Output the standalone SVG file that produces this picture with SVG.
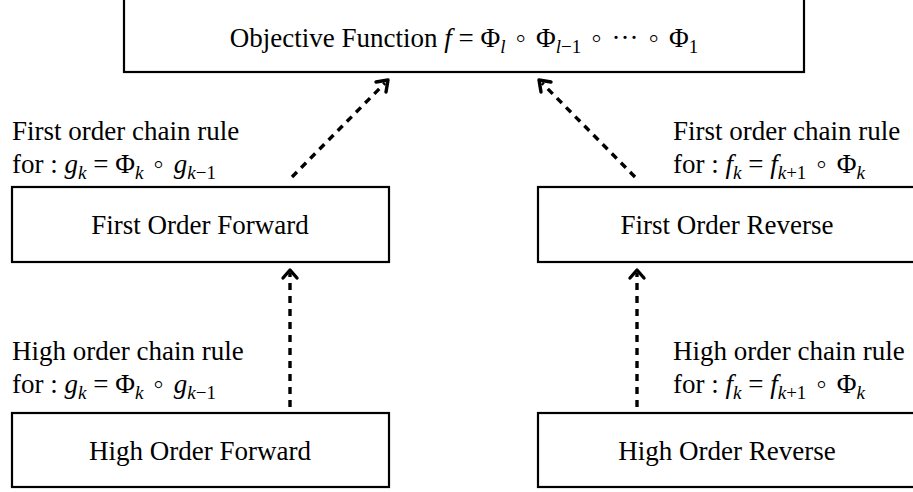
<svg xmlns="http://www.w3.org/2000/svg" width="913" height="492" viewBox="0 0 913 492">
<defs>
<style>
.box{fill:#fff;stroke:#000;stroke-width:2.2}
text{font-family:"Liberation Serif","Times New Roman",serif;font-size:27px;fill:#000}
.t{font-size:27px}
.c{text-anchor:middle}
.i{font-style:italic}
.s{font-size:19px}
.o{font-family:"DejaVu Sans",sans-serif;font-weight:200;font-size:27px}
.conn{fill:none;stroke:#000;stroke-width:3.4;stroke-dasharray:7 6}
.head{fill:none;stroke:#000;stroke-width:3.4;stroke-linecap:round;stroke-linejoin:round}
</style>
</defs>
<rect width="913" height="492" fill="#fff"/>
<g id="objective">
<rect class="box" x="124" y="-10" width="680" height="82"/>
<text class="c t" x="464" y="47">Objective Function <tspan class="i">f</tspan> = Φ<tspan class="s i" dy="6">l</tspan><tspan dy="-6"> </tspan><tspan class="o">∘</tspan> Φ<tspan class="s i" dy="6">l</tspan><tspan class="s">−1</tspan><tspan dy="-6"> </tspan><tspan class="o">∘</tspan> ··· <tspan class="o">∘</tspan> Φ<tspan class="s" dy="6">1</tspan></text>
</g>
<g id="label-fo-fwd">
<text x="12" y="140">First order chain rule</text>
<text x="12" y="173">for : <tspan class="i">g</tspan><tspan class="s i" dy="6">k</tspan><tspan dy="-6"> = Φ</tspan><tspan class="s i" dy="6">k</tspan><tspan dy="-6"> </tspan><tspan class="o">∘</tspan> <tspan class="i">g</tspan><tspan class="s i" dy="6">k</tspan><tspan class="s">−1</tspan></text>
</g>
<g id="label-fo-rev">
<text x="673" y="140">First order chain rule</text>
<text x="673" y="173">for : <tspan class="i">f</tspan><tspan class="s i" dy="6">k</tspan><tspan dy="-6"> = </tspan><tspan class="i">f</tspan><tspan class="s i" dy="6">k</tspan><tspan class="s">+1</tspan><tspan dy="-6"> </tspan><tspan class="o">∘</tspan> Φ<tspan class="s i" dy="6">k</tspan></text>
</g>
<g id="label-ho-fwd">
<text x="12" y="360">High order chain rule</text>
<text x="12" y="393">for : <tspan class="i">g</tspan><tspan class="s i" dy="6">k</tspan><tspan dy="-6"> = Φ</tspan><tspan class="s i" dy="6">k</tspan><tspan dy="-6"> </tspan><tspan class="o">∘</tspan> <tspan class="i">g</tspan><tspan class="s i" dy="6">k</tspan><tspan class="s">−1</tspan></text>
</g>
<g id="label-ho-rev">
<text x="673" y="360">High order chain rule</text>
<text x="673" y="393">for : <tspan class="i">f</tspan><tspan class="s i" dy="6">k</tspan><tspan dy="-6"> = </tspan><tspan class="i">f</tspan><tspan class="s i" dy="6">k</tspan><tspan class="s">+1</tspan><tspan dy="-6"> </tspan><tspan class="o">∘</tspan> Φ<tspan class="s i" dy="6">k</tspan></text>
</g>
<g id="first-order-forward">
<rect class="box" x="12" y="187" width="377" height="75"/>
<text class="c" x="200" y="234">First Order Forward</text>
</g>
<g id="first-order-reverse">
<rect class="box" x="538" y="187" width="377" height="75"/>
<text class="c" x="727" y="234">First Order Reverse</text>
</g>
<g id="high-order-forward">
<rect class="box" x="12" y="413" width="377" height="74"/>
<text class="c" x="200" y="460">High Order Forward</text>
</g>
<g id="high-order-reverse">
<rect class="box" x="538" y="413" width="377" height="74"/>
<text class="c" x="727" y="460">High Order Reverse</text>
</g>
<g id="connectors">
<path class="conn" d="M292 177 L385 83"/>
<path class="head" d="M376 82 L388 80 L386 92"/>
<path class="conn" d="M635 177 L542 83"/>
<path class="head" d="M551 82 L539 80 L541 92"/>
<path class="conn" d="M290 407 L290 273"/>
<path class="head" d="M283 278 L290 270 L297 278"/>
<path class="conn" d="M637 407 L637 273"/>
<path class="head" d="M630 278 L637 270 L644 278"/>
</g>
</svg>
